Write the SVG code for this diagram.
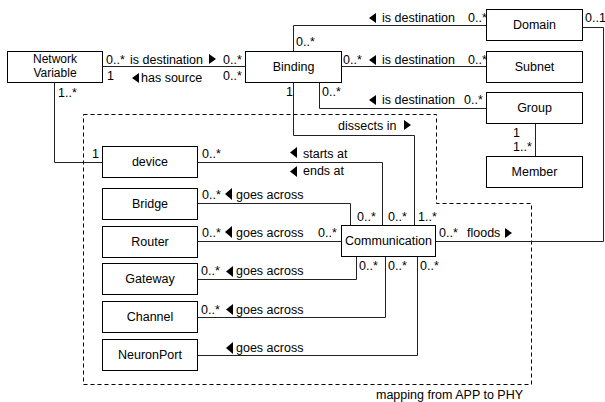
<svg xmlns="http://www.w3.org/2000/svg" width="605" height="402" viewBox="0 0 605 402">
<style>
text{font-family:"Liberation Sans",Arial,sans-serif;font-size:12.5px;fill:#000}
.c{text-anchor:middle}
.box{fill:#fff;stroke:#000;stroke-width:1}
.ln{fill:none;stroke:#222;stroke-width:1}
.dash{fill:none;stroke:#000;stroke-width:1;stroke-dasharray:4,3}
.ar{fill:#000}
</style>
<rect width="605" height="402" fill="#fff"/>
<path class="dash" d="M83.5,114.5 H436.5 V203.5 H531.5 V384.5 H83.5 Z"/>
<text x="376" y="399">mapping from APP to PHY</text>
<g id="connectors">
<path class="ln" d="M102.5,66.5 H245.5"/>
<path class="ln" d="M54.5,82.5 V162.5 H102.5"/>
<path class="ln" d="M486.5,25.5 H293.5 V51.5"/>
<path class="ln" d="M341.5,66.5 H486.5"/>
<path class="ln" d="M319.5,82.5 V108.5 H486.5"/>
<path class="ln" d="M293.5,82.5 V135.5 H414.5 V225.5"/>
<path class="ln" d="M535.5,123.5 V156.5"/>
<path class="ln" d="M582.5,27.5 H603.5 V241.5 H435.5"/>
<path class="ln" d="M197.5,162.5 H382.5 V225.5"/>
<path class="ln" d="M197.5,203.5 H350.5 V225.5"/>
<path class="ln" d="M197.5,241.5 H341.5"/>
<path class="ln" d="M197.5,279.5 H356.5 V256.5"/>
<path class="ln" d="M197.5,317.5 H385.5 V256.5"/>
<path class="ln" d="M197.5,355.5 H417.5 V256.5"/>
<text x="106" y="64">0..*</text>
<text x="130" y="64">is destination</text>
<polygon class="ar" points="209,54 216,59 209,64"/>
<text x="223" y="64">0..*</text>
<text x="107" y="80">1</text>
<polygon class="ar" points="139,73 132,78 139,83"/>
<text x="141" y="82">has source</text>
<text x="223" y="80">0..*</text>
<text x="58" y="97">1..*</text>
<text x="92" y="158">1</text>
<text x="296" y="46">0..*</text>
<polygon class="ar" points="376,13 369,18 376,23"/>
<text x="382" y="22">is destination</text>
<text x="468" y="22">0..*</text>
<text x="585" y="22">0..1</text>
<text x="343" y="64">0..*</text>
<polygon class="ar" points="376,55 369,60 376,65"/>
<text x="382" y="64">is destination</text>
<text x="468" y="64">0..*</text>
<text x="322" y="96">0..*</text>
<polygon class="ar" points="376,95 369,100 376,105"/>
<text x="382" y="104">is destination</text>
<text x="464" y="104">0..*</text>
<text x="286" y="96">1</text>
<text x="338" y="130">dissects in</text>
<polygon class="ar" points="404,120 411,125 404,130"/>
<text x="513" y="137">1</text>
<text x="513" y="151">1..*</text>
<text x="202" y="158">0..*</text>
<polygon class="ar" points="297,147 290,152.5 297,158"/>
<text x="303" y="158">starts at</text>
<polygon class="ar" points="297,166 290,171.5 297,177"/>
<text x="303" y="175">ends at</text>
<text x="202" y="199">0..*</text>
<polygon class="ar" points="232,188 225,194 232,200"/>
<text x="236" y="199">goes across</text>
<text x="202" y="237">0..*</text>
<polygon class="ar" points="232,226 225,232 232,238"/>
<text x="236" y="237">goes across</text>
<text x="318" y="237">0..*</text>
<text x="201" y="275">0..*</text>
<polygon class="ar" points="233,266 226,271.5 233,277"/>
<text x="236" y="275">goes across</text>
<text x="201" y="314">0..*</text>
<polygon class="ar" points="233,304 226,309.5 233,315"/>
<text x="236" y="314">goes across</text>
<polygon class="ar" points="233,342 226,348 233,354"/>
<text x="236" y="352">goes across</text>
<text x="357" y="221">0..*</text>
<text x="388" y="221">0..*</text>
<text x="418" y="221">1..*</text>
<text x="359" y="270">0..*</text>
<text x="388" y="270">0..*</text>
<text x="420" y="270">0..*</text>
<text x="439" y="237">0..*</text>
<text x="467" y="237">floods</text>
<polygon class="ar" points="505,228 512,233 505,238"/>
</g>
<g id="network-variable"><rect class="box" x="7.5" y="51.5" width="95" height="31"/><text class="c" x="55" y="63" style="font-size:12px">Network</text><text class="c" x="55" y="77" style="font-size:12px">Variable</text></g>
<g id="binding"><rect class="box" x="245.5" y="51.5" width="96" height="31"/><text class="c" x="293.5" y="70.5">Binding</text></g>
<g id="domain"><rect class="box" x="486.5" y="9.5" width="96" height="31"/><text class="c" x="534.5" y="29">Domain</text></g>
<g id="subnet"><rect class="box" x="486.5" y="51.5" width="96" height="31"/><text class="c" x="534.5" y="70.5">Subnet</text></g>
<g id="group"><rect class="box" x="486.5" y="92.5" width="96" height="31"/><text class="c" x="534.5" y="112">Group</text></g>
<g id="member"><rect class="box" x="486.5" y="156.5" width="96" height="31"/><text class="c" x="534.5" y="176">Member</text></g>
<g id="device"><rect class="box" x="102.5" y="146.5" width="95" height="31"/><text class="c" x="150" y="166">device</text></g>
<g id="bridge"><rect class="box" x="102.5" y="188.5" width="95" height="31"/><text class="c" x="150" y="207.5">Bridge</text></g>
<g id="router"><rect class="box" x="102.5" y="226.5" width="95" height="31"/><text class="c" x="150" y="245.5">Router</text></g>
<g id="gateway"><rect class="box" x="102.5" y="263.5" width="95" height="31"/><text class="c" x="150" y="283">Gateway</text></g>
<g id="channel"><rect class="box" x="102.5" y="301.5" width="95" height="31"/><text class="c" x="150" y="321">Channel</text></g>
<g id="neuronport"><rect class="box" x="102.5" y="339.5" width="95" height="31"/><text class="c" x="150" y="359">NeuronPort</text></g>
<g id="communication"><rect class="box" x="341.5" y="225.5" width="94" height="31"/><text class="c" x="388.5" y="245">Communication</text></g>
</svg>
